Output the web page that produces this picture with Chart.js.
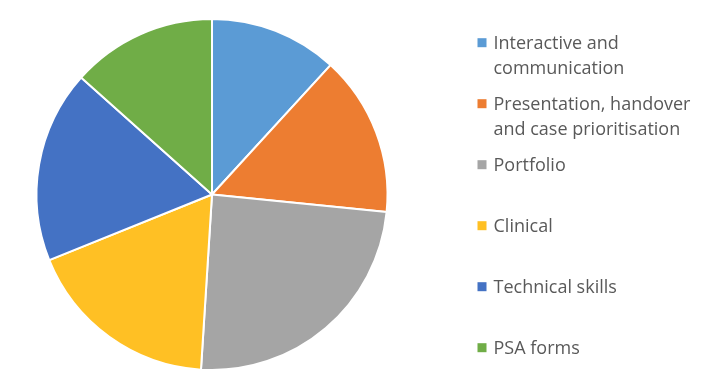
<!DOCTYPE html>
<html>
<head>
<meta charset="utf-8">
<script src="https://cdn.jsdelivr.net/npm/chart.js"></script>
<style>
  html, body { margin: 0; padding: 0; background: #fff; }
  #wrap { width: 715px; height: 384px; }
</style>
</head>
<body>
<div id="wrap"><canvas id="pieChart" width="715" height="384"></canvas></div>
<script>
const categories = [
  ['Interactive and', 'communication'],
  ['Presentation, handover', 'and case prioritisation'],
  ['Portfolio'],
  ['Clinical'],
  ['Technical skills'],
  ['PSA forms']
];
const values = [11.8, 14.8, 24.4, 17.9, 17.7, 13.4];
const colors = ['#5B9BD5', '#ED7D31', '#A5A5A5', '#FFC024', '#4472C4', '#70AD47'];

// legend drawn on the right, one row every 61px
const sideLegend = {
  id: 'sideLegend',
  afterDraw(chart) {
    const ctx = chart.ctx;
    const ds = chart.data.datasets[0];
    ctx.save();
    ctx.font = '18px "Open Sans"';
    ctx.textBaseline = 'alphabetic';
    chart.data.labels.forEach((lines, i) => {
      const cy = 42.7 + i * 61;
      ctx.fillStyle = ds.backgroundColor[i];
      ctx.fillRect(477.5, cy - 4.5, 9, 9);
      ctx.fillStyle = '#595959';
      lines.forEach((t, j) => {
        ctx.fillText(t, 493.5, cy + 6 + j * 25);
      });
    });
    ctx.restore();
  }
};

document.addEventListener('DOMContentLoaded', () => {
  const ctx = document.getElementById('pieChart').getContext('2d');
  new Chart(ctx, {
    type: 'pie',
    data: {
      labels: categories,
      datasets: [{
        data: values,
        backgroundColor: colors,
        borderColor: '#ffffff',
        borderWidth: 2
      }]
    },
    options: {
      responsive: false,
      animation: false,
      layout: { padding: { left: 0, right: 291, top: 18, bottom: 13 } },
      plugins: {
        legend: { display: false },
        tooltip: { enabled: false }
      }
    },
    plugins: [sideLegend]
  });
});
</script>
</body>
</html>
